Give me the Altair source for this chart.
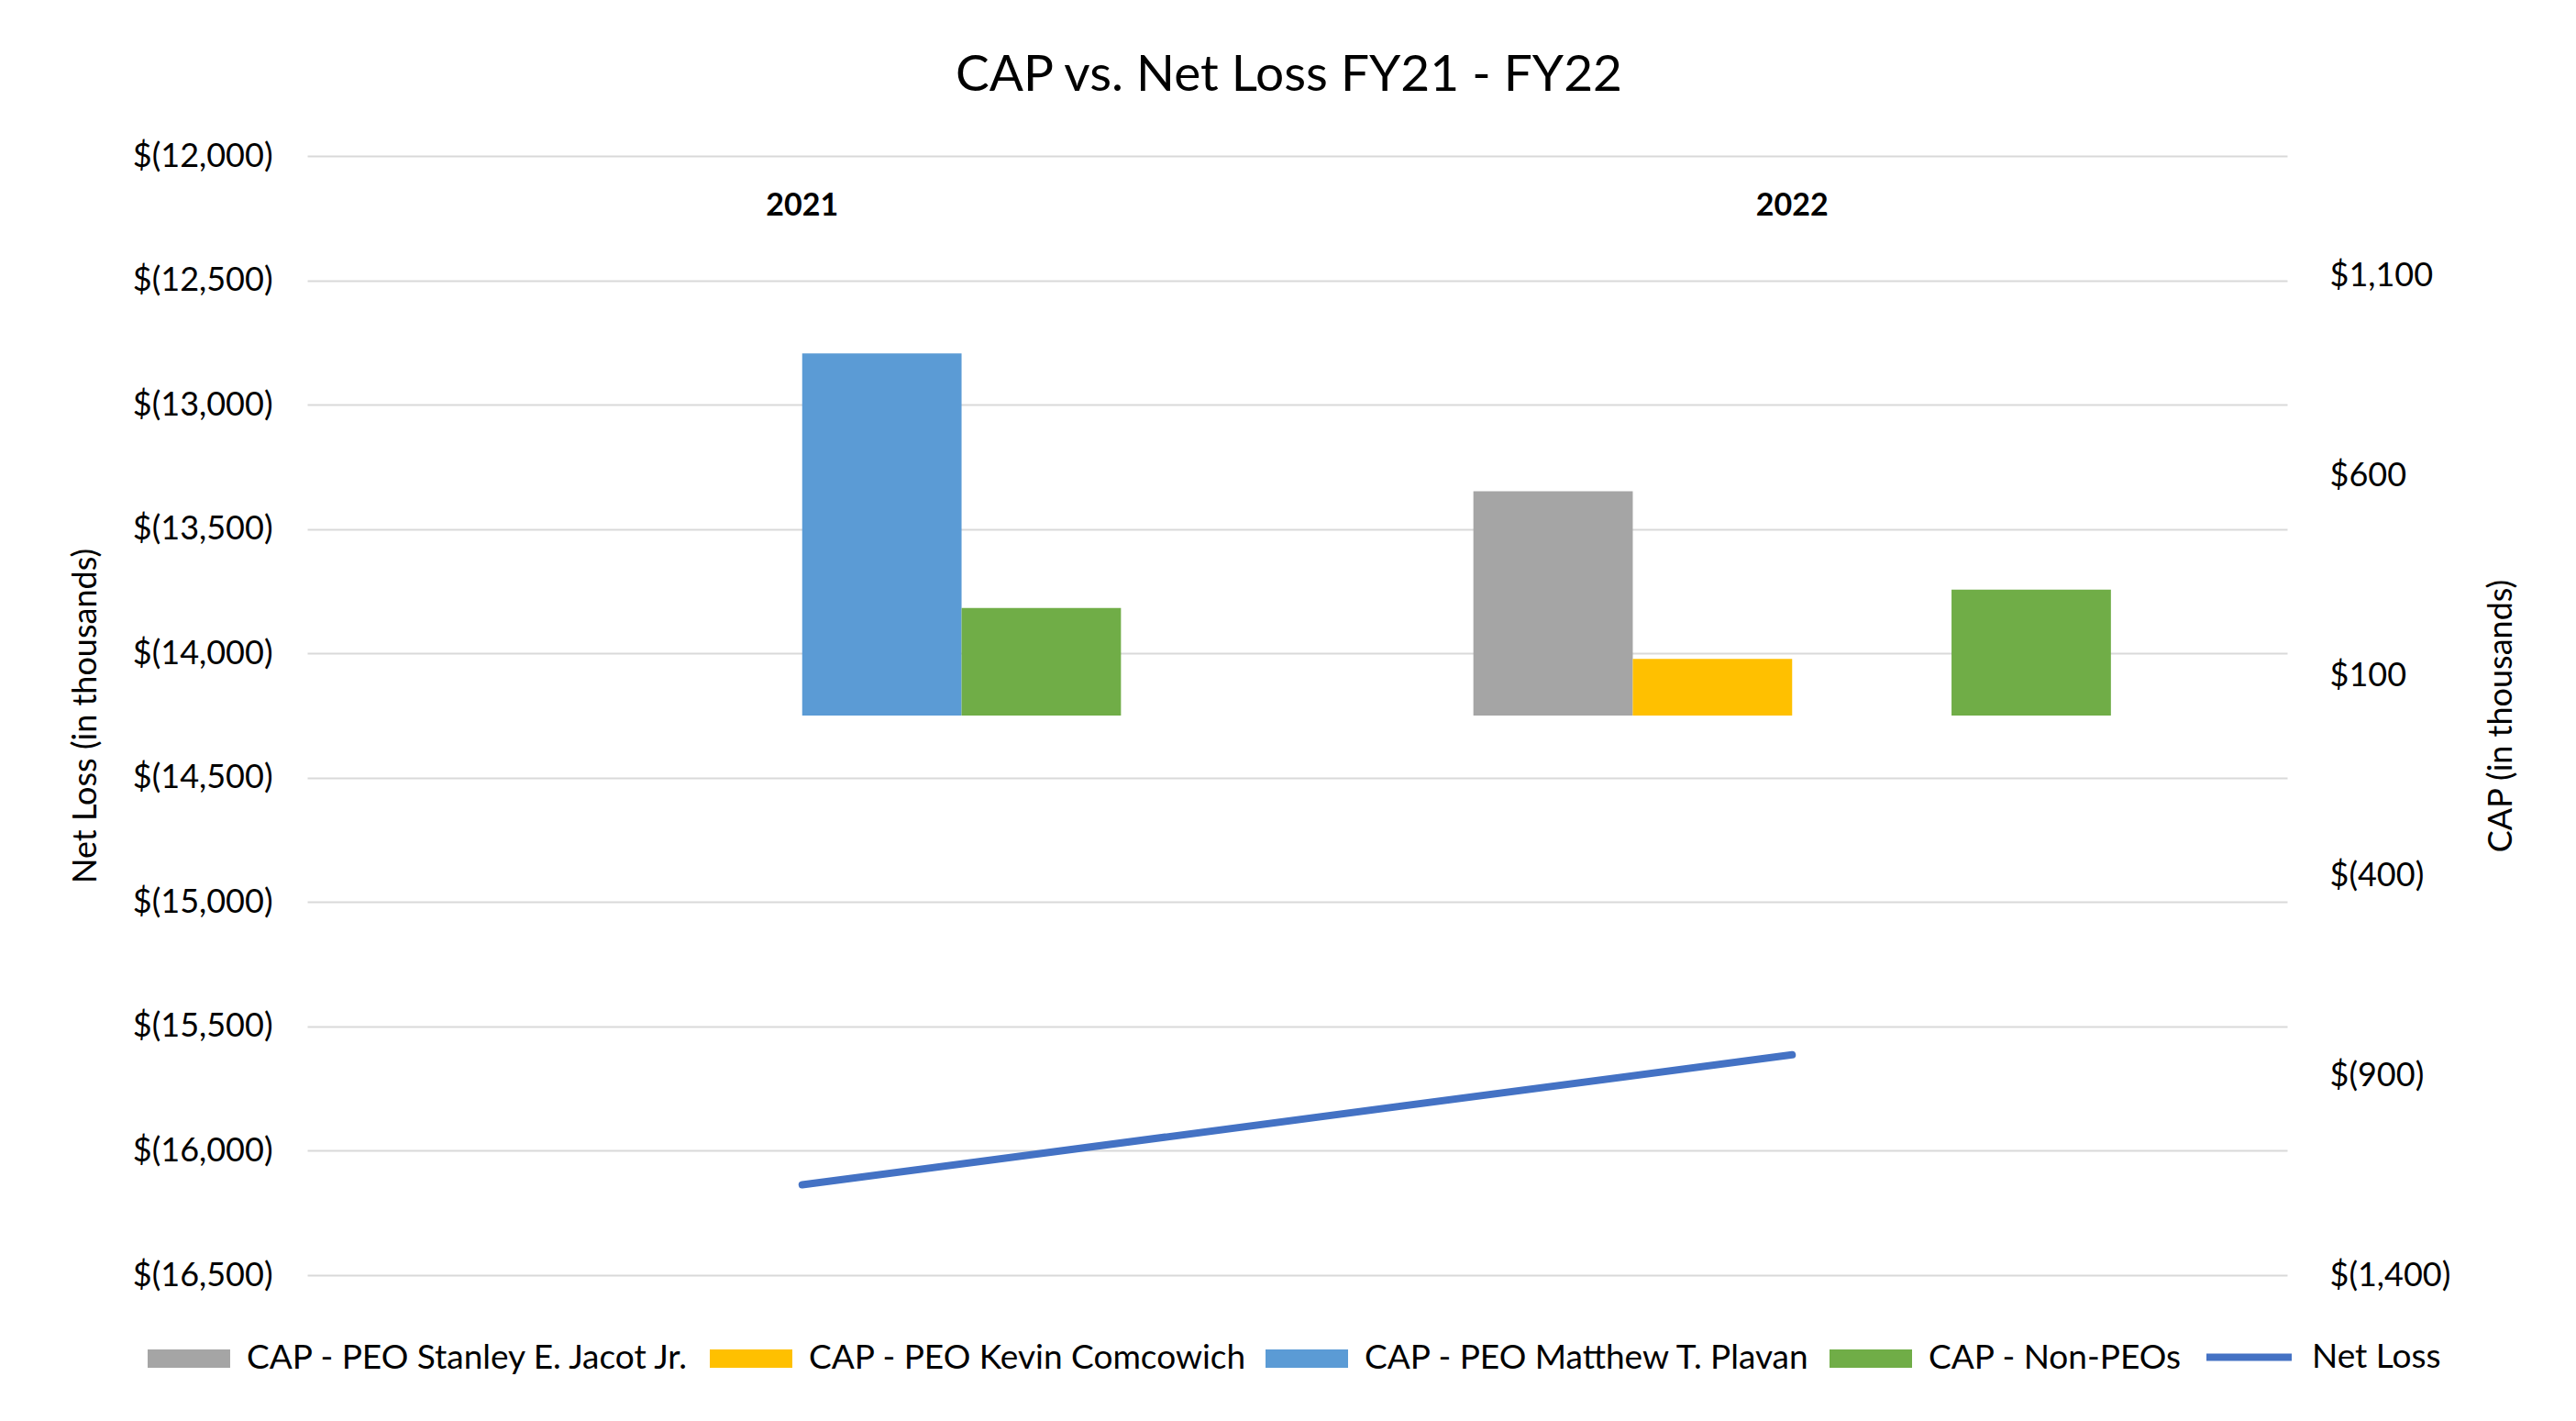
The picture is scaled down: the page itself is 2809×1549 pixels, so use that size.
import altair as alt
import pandas as pd

# ---- data ----
years = ["2021", "2022"]
series = [
    "CAP - PEO Stanley E. Jacot Jr.",
    "CAP - PEO Kevin Comcowich",
    "CAP - PEO Matthew T. Plavan",
    "CAP - Non-PEOs",
]
cap_2021 = [None, None, 906, 269]
cap_2022 = [561, 142, None, 315]
net_loss = [-16137, -15614]
line_label = "Net Loss"

left_ticks = [-16500, -16000, -15500, -15000, -14500, -14000, -13500, -13000, -12500, -12000]
right_ticks = [-1400, -900, -400, 100, 600, 1100]

bar_colors = ["#A5A5A5", "#FFC000", "#5B9BD5", "#70AD47"]
line_color = "#4472C4"

rows = []
for yr, vals in zip(years, [cap_2021, cap_2022]):
    for s, v in zip(series, vals):
        if v is not None:
            rows.append({"year": yr, "series": s, "cap": v})
bars_df = pd.DataFrame(rows)
line_df = pd.DataFrame({"year": years, "net_loss": net_loss, "label": [line_label] * len(years)})

FONT = "Lato"
money = ("datum.value < 0 ? '$(' + format(-datum.value, ',') + ')' "
         ": '$' + format(datum.value, ',')")

x_enc = alt.X(
    "year:N",
    scale=alt.Scale(domain=years, paddingInner=0.356, paddingOuter=0.178),
    axis=alt.Axis(
        orient="top", title=None, labelAngle=0, domain=False, ticks=False,
        tickSize=0, labelPadding=-54, labelBaseline="middle",
        labelFontWeight="bold", labelFontSize=34, grid=False,
    ),
)

bars = alt.Chart(bars_df).mark_bar(strokeWidth=0).encode(
    x=x_enc,
    xOffset=alt.XOffset("series:N", scale=alt.Scale(domain=series, paddingInner=0, paddingOuter=0)),
    y=alt.Y(
        "cap:Q",
        scale=alt.Scale(domain=[-1400, 1400], nice=False),
        axis=alt.Axis(
            orient="right", values=right_ticks, labelExpr=money, grid=False,
            domain=False, ticks=False, labelPadding=46, labelOverlap=False,
            title="CAP (in thousands)", titleAngle=270, titlePadding=75,
        ),
    ),
    color=alt.Color(
        "series:N",
        scale=alt.Scale(domain=series, range=bar_colors),
        legend=alt.Legend(
            orient="none", direction="horizontal", legendX=-174, legendY=1266,
            title=None, symbolType="M-1,-0.22H1V0.22H-1Z", symbolSize=8100,
            symbolStrokeWidth=0, symbolOpacity=1, labelOffset=18, columnPadding=20,
            padding=0, labelLimit=0,
        ),
    ),
)

line = alt.Chart(line_df).mark_line(strokeWidth=8, strokeCap="round").encode(
    x=x_enc,
    y=alt.Y(
        "net_loss:Q",
        scale=alt.Scale(domain=[-16500, -12000], nice=False, zero=False),
        axis=alt.Axis(
            orient="left", values=left_ticks, labelExpr=money, grid=True,
            gridColor="#D9D9D9", gridWidth=2, domain=False, ticks=False,
            labelPadding=38, labelOverlap=False,
            title="Net Loss (in thousands)", titlePadding=32,
        ),
    ),
    stroke=alt.Stroke(
        "label:N",
        scale=alt.Scale(domain=[line_label], range=[line_color]),
        legend=alt.Legend(
            orient="none", direction="horizontal", legendX=2067, legendY=1259,
            title=None, symbolType="stroke", symbolSize=8649, symbolStrokeWidth=8,
            labelOffset=18, padding=0, labelLimit=0,
        ),
    ),
)

chart = (
    alt.layer(bars, line)
    .resolve_scale(y="independent", color="independent", stroke="independent")
    .properties(
        width=2159,
        height=1220,
        autosize=alt.AutoSizeParams(type="none"),
        padding={"left": 327, "top": 162, "right": 307, "bottom": 151},
        title=alt.TitleParams(
            "CAP vs. Net Loss FY21 - FY22", fontSize=55, font=FONT,
            fontWeight="normal", anchor="middle", offset=41, dx=-9, color="black",
        ),
    )
    .configure_view(stroke=None)
    .configure_axis(
        labelFont=FONT, labelFontSize=36, labelColor="black",
        titleFont=FONT, titleFontSize=36, titleFontWeight="normal", titleColor="black",
    )
    .configure_legend(labelFont=FONT, labelFontSize=37, labelColor="black")
)

chart.save("out.html", embed_options={"renderer": "svg", "actions": False})
